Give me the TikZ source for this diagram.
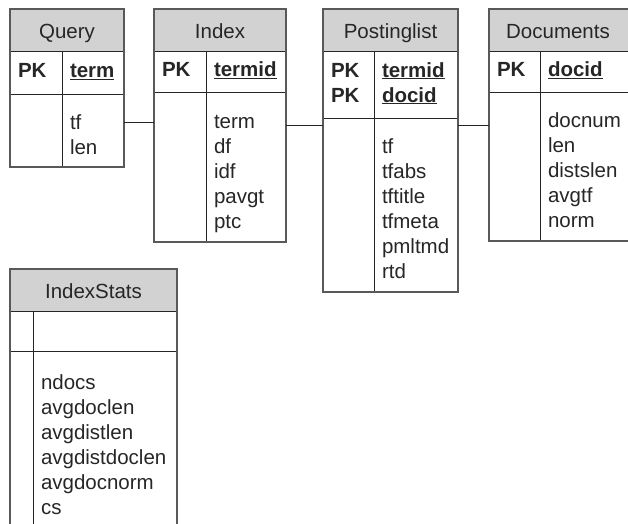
\documentclass[tikz,border=0pt]{standalone}
\usepackage{fontspec}
\setmainfont{Liberation Sans}
\usetikzlibrary{positioning}

\begin{document}
\begin{tikzpicture}[x=1pt,y=-1pt]
        \tikzstyle{every node}=[font=\fontsize{20.5}{25}\selectfont, text=black!85, inner sep=0pt, outer sep=0pt, anchor=north west]
        \tikzstyle{tabcell}=[draw=black!85, line width=0.9pt, inner xsep=8pt, align=left]
        \tikzstyle{tabhead}=[tabcell, fill=gray!35, minimum height=42pt, align=center, execute at begin node={\rule[-7.5pt]{0pt}{31pt}}]
        \tikzstyle{tabkey}=[tabcell, font=\fontsize{20.5}{25}\selectfont\bfseries, execute at begin node=\strut, execute at end node=\strut]
        \tikzstyle{tabbody}=[tabcell, execute at begin node={\rule{0pt}{30pt}}, execute at end node=\strut]
        \tikzstyle{frame}=[draw=black!65, line width=1.6pt]
        \tikzstyle{link}=[draw=black!85, line width=1pt]
        \useasboundingbox (0,0) rectangle (628,523);
        \clip (0,0) rectangle (628,523);

        % Query
        \node[tabhead, minimum width=114pt] (query) at (10,9) {Query};
        \node[tabkey, text width=36pt, minimum height=43pt, below right=0pt of query.south west] (qkl) {PK};
        \node[tabkey, text width=46pt, minimum height=43pt, below right=0pt of qkl.north east] (qkr) {\underline{term}};
        \node[tabbody, text width=36pt, minimum height=73pt, below right=0pt of qkl.south west] (qbl) {};
        \node[tabbody, text width=46pt, minimum height=73pt, below right=0pt of qbl.north east] (qbr) {tf\\len};
        \draw[frame] (query.north west) rectangle (qbr.south east);

        % Index
        \node[tabhead, minimum width=132pt] (index) at (154,9) {Index};
        \node[tabkey, text width=36pt, minimum height=41pt, below right=0pt of index.south west] (ikl) {PK};
        \node[tabkey, text width=64pt, minimum height=41pt, below right=0pt of ikl.north east] (ikr) {\underline{termid}};
        \node[tabbody, text width=36pt, minimum height=150pt, below right=0pt of ikl.south west] (ibl) {};
        \node[tabbody, text width=64pt, minimum height=150pt, below right=0pt of ibl.north east] (ibr) {term\\df\\idf\\pavgt\\ptc};
        \draw[frame] (index.north west) rectangle (ibr.south east);

        % Postinglist
        \node[tabhead, minimum width=135pt] (plist) at (323,9) {Postinglist};
        \node[tabkey, text width=35pt, minimum height=67pt, below right=0pt of plist.south west] (pkl) {PK\\PK};
        \node[tabkey, text width=68pt, minimum height=67pt, below right=0pt of pkl.north east] (pkr) {\underline{termid}\\\underline{docid}};
        \node[tabbody, text width=35pt, minimum height=174pt, below right=0pt of pkl.south west] (pbl) {};
        \node[tabbody, text width=68pt, minimum height=174pt, below right=0pt of pbl.north east] (pbr) {tf\\tfabs\\tftitle\\tfmeta\\pmltmd\\rtd};
        \draw[frame] (plist.north west) rectangle (pbr.south east);

        % Documents
        \node[tabhead, minimum width=142pt] (docs) at (489,9) {\hspace*{-4pt}Documents};
        \node[tabkey, text width=35pt, minimum height=41pt, below right=0pt of docs.south west] (dkl) {PK};
        \node[tabkey, text width=75pt, minimum height=41pt, below right=0pt of dkl.north east] (dkr) {\underline{docid}};
        \node[tabbody, text width=35pt, minimum height=149pt, below right=0pt of dkl.south west] (dbl) {};
        \node[tabbody, text width=75pt, minimum height=149pt, below right=0pt of dbl.north east] (dbr) {docnum\\len\\distslen\\avgtf\\norm};
        \draw[frame] (docs.north west) rectangle (dbr.south east);

        % IndexStats
        \node[tabhead, minimum width=167pt] (istats) at (10,269) {IndexStats};
        \node[tabkey, text width=7pt, minimum height=40pt, below right=0pt of istats.south west] (skl) {};
        \node[tabkey, text width=128pt, minimum height=40pt, below right=0pt of skl.north east] (skr) {};
        \node[tabbody, text width=7pt, minimum height=180pt, below right=0pt of skl.south west] (sbl) {};
        \node[tabbody, text width=128pt, minimum height=180pt, below right=0pt of sbl.north east] (sbr) {ndocs\\avgdoclen\\avgdistlen\\avgdistdoclen\\avgdocnorm\\cs};
        \draw[frame] (istats.north west) rectangle (sbr.south east);

        % links
        \draw[link] ([yshift=8.5pt]qbr.east) -- ([yshift=8.5pt]qbr.east -| ibl.west);
        \draw[link] ([yshift=42pt]ibr.east) -- ([yshift=42pt]ibr.east -| pbl.west);
        \draw[link] ([yshift=80pt]pbr.east) -- ([yshift=80pt]pbr.east -| dbl.west);
\end{tikzpicture}
\end{document}
